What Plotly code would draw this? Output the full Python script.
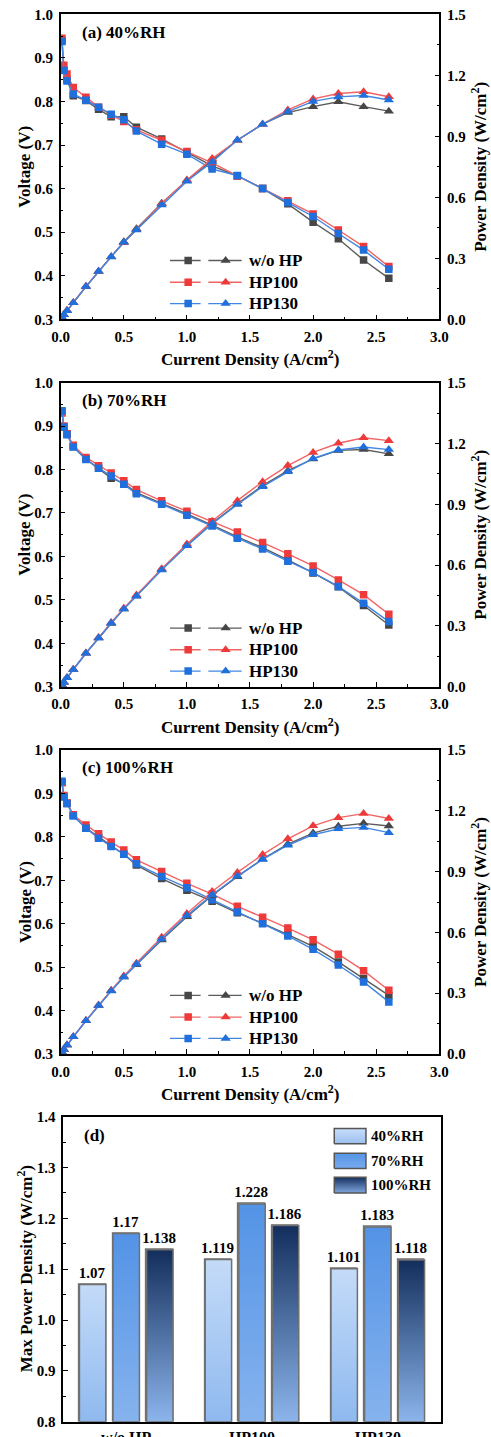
import plotly.graph_objects as go

FONT = "Liberation Serif, Times New Roman, serif"

# ---------------- data ----------------
I_CD = [0.01, 0.025, 0.05, 0.1, 0.2, 0.3, 0.4, 0.5, 0.6, 0.8, 1.0, 1.2, 1.4, 1.6, 1.8, 2.0, 2.2, 2.4, 2.6]

SERIES = ["w/o HP", "HP100", "HP130"]

# (a) 40%RH
V_a_wo = [0.940, 0.872, 0.850, 0.813, 0.802, 0.782, 0.765, 0.765, 0.741, 0.714, 0.683, 0.652, 0.629, 0.600, 0.565, 0.523, 0.485, 0.436, 0.394]
V_a_100 = [0.945, 0.883, 0.863, 0.832, 0.810, 0.787, 0.769, 0.754, 0.735, 0.711, 0.685, 0.659, 0.629, 0.600, 0.572, 0.542, 0.505, 0.467, 0.421]
V_a_130 = [0.938, 0.871, 0.847, 0.817, 0.803, 0.787, 0.771, 0.758, 0.732, 0.702, 0.679, 0.645, 0.630, 0.600, 0.568, 0.536, 0.497, 0.459, 0.415]
P_a_wo = [0.009, 0.022, 0.043, 0.081, 0.160, 0.235, 0.306, 0.382, 0.445, 0.571, 0.683, 0.782, 0.881, 0.960, 1.017, 1.046, 1.070, 1.046, 1.024]
P_a_100 = [0.009, 0.022, 0.043, 0.083, 0.162, 0.236, 0.308, 0.377, 0.441, 0.569, 0.685, 0.791, 0.881, 0.960, 1.030, 1.084, 1.111, 1.119, 1.095]
P_a_130 = [0.009, 0.022, 0.042, 0.082, 0.161, 0.236, 0.308, 0.379, 0.439, 0.562, 0.679, 0.774, 0.882, 0.960, 1.022, 1.072, 1.094, 1.101, 1.079]

# (b) 70%RH
V_b_wo = [0.935, 0.898, 0.882, 0.853, 0.824, 0.803, 0.780, 0.768, 0.747, 0.722, 0.698, 0.672, 0.645, 0.620, 0.592, 0.562, 0.530, 0.487, 0.442]
V_b_100 = [0.930, 0.900, 0.882, 0.856, 0.828, 0.809, 0.792, 0.774, 0.754, 0.728, 0.704, 0.680, 0.656, 0.632, 0.606, 0.578, 0.546, 0.512, 0.467]
V_b_130 = [0.935, 0.898, 0.880, 0.852, 0.823, 0.803, 0.785, 0.766, 0.744, 0.720, 0.695, 0.670, 0.642, 0.617, 0.589, 0.563, 0.531, 0.492, 0.450]
P_b_wo = [0.009, 0.022, 0.044, 0.085, 0.165, 0.241, 0.312, 0.384, 0.448, 0.578, 0.698, 0.806, 0.903, 0.992, 1.066, 1.124, 1.166, 1.170, 1.149]
P_b_100 = [0.009, 0.022, 0.044, 0.086, 0.166, 0.243, 0.317, 0.387, 0.452, 0.582, 0.704, 0.816, 0.918, 1.011, 1.091, 1.156, 1.201, 1.228, 1.214]
P_b_130 = [0.009, 0.022, 0.044, 0.085, 0.165, 0.241, 0.314, 0.383, 0.446, 0.576, 0.695, 0.804, 0.899, 0.987, 1.060, 1.126, 1.168, 1.183, 1.170]

# (c) 100%RH
V_c_wo = [0.925, 0.893, 0.877, 0.850, 0.820, 0.800, 0.780, 0.760, 0.735, 0.704, 0.677, 0.652, 0.625, 0.601, 0.575, 0.548, 0.512, 0.474, 0.435]
V_c_100 = [0.925, 0.895, 0.878, 0.851, 0.827, 0.807, 0.788, 0.770, 0.747, 0.720, 0.693, 0.668, 0.640, 0.615, 0.590, 0.563, 0.530, 0.492, 0.447]
V_c_130 = [0.928, 0.892, 0.877, 0.848, 0.820, 0.797, 0.778, 0.760, 0.738, 0.709, 0.683, 0.655, 0.627, 0.600, 0.572, 0.541, 0.505, 0.466, 0.420]
P_c_wo = [0.009, 0.022, 0.044, 0.085, 0.164, 0.240, 0.312, 0.380, 0.441, 0.563, 0.677, 0.782, 0.875, 0.962, 1.036, 1.090, 1.124, 1.138, 1.125]
P_c_100 = [0.009, 0.022, 0.044, 0.085, 0.165, 0.242, 0.315, 0.385, 0.448, 0.576, 0.693, 0.802, 0.896, 0.984, 1.062, 1.126, 1.166, 1.186, 1.162]
P_c_130 = [0.009, 0.022, 0.044, 0.085, 0.164, 0.239, 0.311, 0.380, 0.443, 0.567, 0.683, 0.786, 0.878, 0.960, 1.030, 1.082, 1.111, 1.118, 1.092]

# (d) max power density
BAR_CATS = ["w/o HP", "HP100", "HP130"]
RH_NAMES = ["40%RH", "70%RH", "100%RH"]
MPD_40 = [1.07, 1.119, 1.101]
MPD_70 = [1.17, 1.228, 1.183]
MPD_100 = [1.138, 1.186, 1.118]
MPD_LABELS_40 = ["1.07", "1.119", "1.101"]
MPD_LABELS_70 = ["1.17", "1.228", "1.183"]
MPD_LABELS_100 = ["1.138", "1.186", "1.118"]

# ---------------- styles ----------------
MARKER_COLORS = ["#474747", "#ee3a3a", "#1f6fdc"]
LINE_COLORS = ["#5c5c5c", "#f26464", "#4286e4"]
BAR_GRAD = [("#8fb9ef", "#c4dbf8"), ("#86b3ee", "#5393e6"), ("#8cb5ec", "#132e5c")]
LEG_GRAD = [("#9cc1f1", "#c8ddf9"), ("#78abee", "#5595e7"), ("#7fa6dc", "#14305e")]
BAR_EDGE = "#707070"

XDOM = [0.1236, 0.8947]
YDOMS = [[0.7778, 0.9900], [0.5221, 0.7337], [0.2665, 0.4781]]
XDOM_D = [0.1290, 0.8975]
YDOM_D = [0.01065, 0.2229]

PANEL_LABELS = ["(a) 40%RH", "(b) 70%RH", "(c) 100%RH"]
V_SETS = [(V_a_wo, V_a_100, V_a_130), (V_b_wo, V_b_100, V_b_130), (V_c_wo, V_c_100, V_c_130)]
P_SETS = [(P_a_wo, P_a_100, P_a_130), (P_b_wo, P_b_100, P_b_130), (P_c_wo, P_c_100, P_c_130)]

LEG_ROWS = [0.435, 0.385, 0.336]
LEG_SEG = [0.866, 1.109, None, 1.17, 1.434]
LEG_SQ_X = 1.01
LEG_TRI_X = 1.307
LEG_TEXT_X = 1.479

tickfont = dict(family=FONT, size=15, color="black", weight="bold")
titlefont = dict(family=FONT, size=17, color="black", weight="bold")

fig = go.Figure()
annotations = []
layout = dict(
    width=491, height=1437,
    margin=dict(l=0, r=0, t=0, b=0),
    paper_bgcolor="white", plot_bgcolor="white",
    showlegend=False,
    font=dict(family=FONT, color="black"),
)

def axis_common():
    return dict(showline=True, linewidth=1.5, linecolor="black", showgrid=False,
                zeroline=False, ticks="inside", ticklen=5, tickwidth=1.3,
                tickcolor="black", tickfont=tickfont, automargin=False)

for i in range(3):
    xn = "x" if i == 0 else f"x{i+1}"
    yl = f"y{2*i+1}" if i > 0 else "y"
    yr = f"y{2*i+2}"
    xkey = "xaxis" if i == 0 else f"xaxis{i+1}"
    ylkey = "yaxis" if i == 0 else f"yaxis{2*i+1}"
    yrkey = f"yaxis{2*i+2}"

    xa = axis_common()
    xa.update(domain=XDOM, anchor=yl, range=[0, 3], tick0=0, dtick=0.5, tickformat=".1f",
              mirror=True, ticklabelstandoff=3,
              minor=dict(dtick=0.25, ticks="inside", ticklen=3, tickcolor="black", tickwidth=1))
    layout[xkey] = xa
    ya = axis_common()
    ya.update(domain=YDOMS[i], anchor=xn, range=[0.3, 1.0], tick0=0.3, dtick=0.1, tickformat=".1f",
              ticklabelstandoff=3,
              minor=dict(dtick=0.05, ticks="inside", ticklen=3, tickcolor="black", tickwidth=1))
    layout[ylkey] = ya
    yb = axis_common()
    yb.update(domain=YDOMS[i], anchor=xn, overlaying=yl, side="right", range=[0, 1.5], tick0=0,
              dtick=0.3, tickformat=".1f", ticklabelstandoff=3,
              minor=dict(dtick=0.15, ticks="inside", ticklen=3, tickcolor="black", tickwidth=1))
    layout[yrkey] = yb

    for s in range(3):
        fig.add_trace(go.Scatter(x=I_CD, y=V_SETS[i][s], mode="lines+markers", xaxis=xn, yaxis=yl,
                                 name=SERIES[s],
                                 line=dict(color=LINE_COLORS[s], width=1.4),
                                 marker=dict(symbol="square", size=7.5, color=MARKER_COLORS[s])))
    for s in range(3):
        fig.add_trace(go.Scatter(x=I_CD, y=P_SETS[i][s], mode="lines+markers", xaxis=xn, yaxis=yr,
                                 name=SERIES[s],
                                 line=dict(color=LINE_COLORS[s], width=1.4),
                                 marker=dict(symbol="triangle-up", size=9, color=MARKER_COLORS[s])))

    # custom legend
    for s in range(3):
        row = LEG_ROWS[s]
        fig.add_trace(go.Scatter(x=LEG_SEG, y=[row if v is not None else None for v in LEG_SEG],
                                 mode="lines", xaxis=xn, yaxis=yl, hoverinfo="skip",
                                 line=dict(color=LINE_COLORS[s], width=1.4)))
        fig.add_trace(go.Scatter(x=[LEG_SQ_X], y=[row], mode="markers", xaxis=xn, yaxis=yl,
                                 hoverinfo="skip",
                                 marker=dict(symbol="square", size=7.5, color=MARKER_COLORS[s])))
        fig.add_trace(go.Scatter(x=[LEG_TRI_X], y=[row], mode="markers", xaxis=xn, yaxis=yl,
                                 hoverinfo="skip",
                                 marker=dict(symbol="triangle-up", size=9, color=MARKER_COLORS[s])))
        annotations.append(dict(x=LEG_TEXT_X, y=row, xref=xn, yref=yl, text=SERIES[s],
                                showarrow=False, xanchor="left", yanchor="middle",
                                font=dict(family=FONT, size=17, color="black", weight="bold")))

    ytop_px = (1 - YDOMS[i][1]) * 1437
    ybot_px = (1 - YDOMS[i][0]) * 1437
    ymid = (YDOMS[i][0] + YDOMS[i][1]) / 2
    annotations.append(dict(x=80 / 491, y=1 - (ytop_px + 18) / 1437, xref="paper", yref="paper",
                            text=PANEL_LABELS[i], showarrow=False, xanchor="left", yanchor="middle",
                            font=dict(family=FONT, size=17, color="black", weight="bold")))
    annotations.append(dict(x=(XDOM[0] + XDOM[1]) / 2, y=1 - (ybot_px + 39) / 1437, xref="paper",
                            yref="paper", text="Current Density (A/cm<sup>2</sup>)", showarrow=False,
                            xanchor="center", yanchor="middle", font=titlefont))
    annotations.append(dict(x=25 / 491, y=ymid, xref="paper", yref="paper", text="Voltage (V)",
                            textangle=-90, showarrow=False, xanchor="center", yanchor="middle",
                            font=titlefont))
    annotations.append(dict(x=479 / 491, y=ymid, xref="paper", yref="paper",
                            text="Power Density (W/cm<sup>2</sup>)", textangle=-90, showarrow=False,
                            xanchor="center", yanchor="middle", font=titlefont))

# ---------------- panel (d) ----------------
BAR_W = 0.21
BAR_OFF = [-0.267, 0.0, 0.267]
BASE = 0.8
xa = axis_common()
xa.update(domain=XDOM_D, anchor="y7", range=[-0.5, 2.5], tickvals=[0, 1, 2], ticktext=BAR_CATS,
          ticks="", mirror=True, ticklabelstandoff=0,
          tickfont=dict(family=FONT, size=16, color="black", weight="bold"))
layout["xaxis4"] = xa
ya = axis_common()
ya.update(domain=YDOM_D, anchor="x4", range=[0.8, 1.4], tick0=0.8, dtick=0.1, tickformat=".1f",
          mirror=True, ticklabelstandoff=3,
          minor=dict(dtick=0.05, ticks="inside", ticklen=3, tickcolor="black", tickwidth=1))
layout["yaxis7"] = ya

MPD_SETS = [MPD_40, MPD_70, MPD_100]
MPD_LABEL_SETS = [MPD_LABELS_40, MPD_LABELS_70, MPD_LABELS_100]
for r in range(3):
    xs = [g + BAR_OFF[r] for g in range(len(BAR_CATS))]
    fig.add_trace(go.Bar(x=xs, y=[v - BASE for v in MPD_SETS[r]], base=BASE, width=BAR_W,
                         xaxis="x4", yaxis="y7", name=RH_NAMES[r],
                         marker=dict(color="rgba(0,0,0,0)", line=dict(color=BAR_EDGE, width=1.5)),
                         text=MPD_LABEL_SETS[r], textposition="outside", cliponaxis=False,
                         constraintext="none",
                         textfont=dict(family=FONT, size=15, color="black", weight="bold")))
for r in range(3):
    for g in range(len(BAR_CATS)):
        xc = g + BAR_OFF[r]
        x0, x1 = xc - BAR_W / 2, xc + BAR_W / 2
        v = MPD_SETS[r][g]
        fig.add_trace(go.Scatter(x=[x0, x1, x1, x0, x0], y=[BASE, BASE, v, v, BASE],
                                 mode="lines", fill="toself", xaxis="x4", yaxis="y7",
                                 hoverinfo="skip",
                                 line=dict(color=BAR_EDGE, width=1.5),
                                 fillgradient=dict(type="vertical",
                                                   colorscale=[[0, BAR_GRAD[r][0]], [1, BAR_GRAD[r][1]]])))

# legend of (d)
LEG_BOX_X = [1.654, 1.906]
LEG_BOX_Y = [(1.347, 1.377), (1.298, 1.328), (1.250, 1.281)]
LEG_D_TEXT_Y = [1.362, 1.313, 1.266]
LEG_D_TEXT_X = 1.93
for r in range(3):
    x0, x1 = LEG_BOX_X
    y0, y1 = LEG_BOX_Y[r]
    fig.add_trace(go.Scatter(x=[x0, x1, x1, x0, x0], y=[y0, y0, y1, y1, y0], mode="lines",
                             fill="toself", xaxis="x4", yaxis="y7", hoverinfo="skip",
                             line=dict(color="#555555", width=1.5),
                             fillgradient=dict(type="vertical",
                                               colorscale=[[0, LEG_GRAD[r][0]], [1, LEG_GRAD[r][1]]])))
    annotations.append(dict(x=LEG_D_TEXT_X, y=LEG_D_TEXT_Y[r], xref="x4", yref="y7", text=RH_NAMES[r],
                            showarrow=False, xanchor="left", yanchor="middle",
                            font=dict(family=FONT, size=15, color="black", weight="bold")))

annotations.append(dict(x=82 / 491, y=1 - 1135 / 1437, xref="paper", yref="paper", text="(d)",
                        showarrow=False, xanchor="left", yanchor="middle",
                        font=dict(family=FONT, size=17, color="black", weight="bold")))
annotations.append(dict(x=25 / 491, y=(YDOM_D[0] + YDOM_D[1]) / 2, xref="paper", yref="paper",
                        text="Max Power Density (W/cm<sup>2</sup>)", textangle=-90, showarrow=False,
                        xanchor="center", yanchor="middle", font=titlefont))

layout["annotations"] = annotations
layout["bargap"] = 0
fig.update_layout(**layout)
fig.write_html("out.html", config={"displayModeBar": False},
               post_script="document.body.style.margin='0';document.body.style.overflow='hidden';")
